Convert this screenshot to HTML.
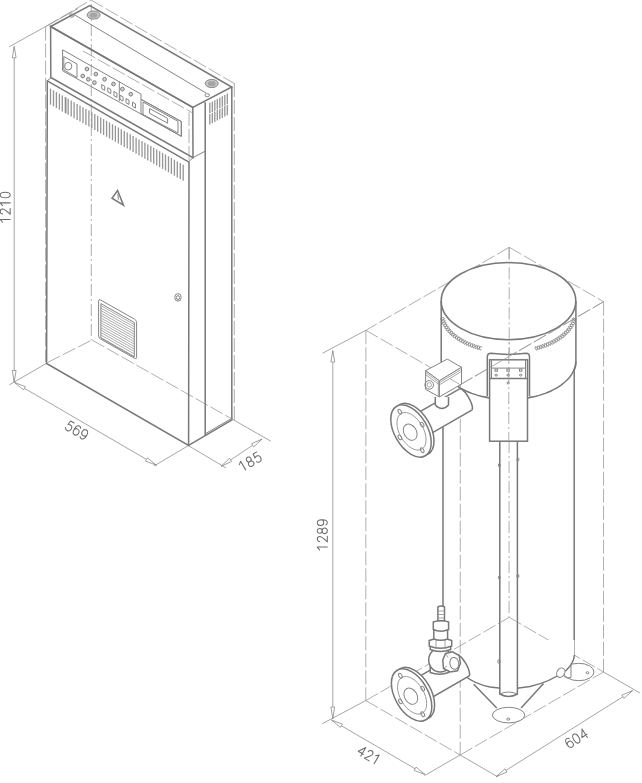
<!DOCTYPE html>
<html><head><meta charset="utf-8"><style>
html,body{margin:0;padding:0;background:#fff;}
svg{display:block;}
.m{fill:none;stroke:#858585;stroke-width:1;}
.M{fill:none;stroke:#787878;stroke-width:1.5;}
.t{fill:none;stroke:#8f8f8f;stroke-width:0.8;}
.d{fill:none;stroke:#9a9a9a;stroke-width:0.8;stroke-dasharray:14 3;}
.W0{fill:#fff;stroke:none;}
.wv{fill:none;stroke:#7c7c7c;stroke-width:1.0;}
.kn{fill:#d2d2d2;stroke:#7a7a7a;stroke-width:1;}
.L{fill:none;stroke:#999;stroke-width:0.8;}
.dd{fill:none;stroke:#9a9a9a;stroke-width:0.8;stroke-dasharray:12 3 2 3;}
.v{fill:none;stroke:#959595;stroke-width:1.3;}
.g{fill:#c6c6c6;stroke:#8a8a8a;stroke-width:1;}
.g2{fill:#a4a4a4;stroke:none;}
.ar{fill:#fff;stroke:#8a8a8a;stroke-width:0.8;}
.f{fill:#fff;stroke:#858585;stroke-width:1;}
.F{fill:#fff;stroke:#787878;stroke-width:1.5;}
.W{fill:#fff;stroke:#787878;stroke-width:1.6;}
.hb{fill:none;stroke:#9a9a9a;stroke-width:4.5;stroke-dasharray:1.6 1.2;}
.tx{fill:none;stroke:#6c6c6c;stroke-width:1.05;stroke-linecap:round;stroke-linejoin:round;}
</style></head><body>
<svg width="642" height="783" viewBox="0 0 642 783">
<line class="d" x1="45.6" y1="26.6" x2="45.6" y2="362.0"/>
<line class="dd" x1="91.3" y1="4.0" x2="91.3" y2="340.0"/>
<line class="d" x1="234.3" y1="83.0" x2="234.3" y2="420.0"/>
<line class="d" x1="45.6" y1="26.6" x2="91.0" y2="0.0"/>
<line class="d" x1="91.0" y1="0.0" x2="234.3" y2="83.5"/>
<line class="t" x1="9.3" y1="46.7" x2="45.6" y2="26.6"/>
<line class="t" x1="45.6" y1="26.6" x2="78.0" y2="8.6"/>
<line class="t" x1="14.2" y1="47.0" x2="14.2" y2="382.0"/>
<polygon class="ar" points="14.2,46.3 16.1,57.8 12.3,57.8"/>
<polygon class="ar" points="14.2,382.0 12.3,370.5 16.1,370.5"/>
<line class="t" x1="46.4" y1="363.4" x2="9.3" y2="384.9"/>
<g class="tx" transform="translate(5.2 207.4) rotate(-90) scale(1.000) translate(-15.45 -5)"><path transform="translate(0.00,0)" d="M0.6,2.3 L3.4,0 L3.4,10"/><path transform="translate(8.30,0)" d="M0.5,2.4 C0.8,0.8 1.8,0 3.1,0 C4.7,0 5.6,1.1 5.6,2.6 C5.6,4.3 4.3,5.6 0.3,10 L5.9,10"/><path transform="translate(16.60,0)" d="M0.6,2.3 L3.4,0 L3.4,10"/><path transform="translate(24.90,0)" d="M3,0 C1.2,0 0.2,2 0.2,5 C0.2,8 1.2,10 3,10 C4.8,10 5.8,8 5.8,5 C5.8,2 4.8,0 3,0 Z"/></g>
<line class="t" x1="14.5" y1="382.5" x2="156.4" y2="465.2"/>
<polygon class="ar" points="14.5,382.5 25.4,386.6 23.5,389.9"/>
<polygon class="ar" points="156.4,465.2 145.5,461.1 147.4,457.8"/>
<line class="t" x1="188.4" y1="445.6" x2="154.0" y2="466.0"/>
<g class="tx" transform="translate(76.8 430.3) rotate(30) scale(1.000) translate(-11.30 -5)"><path transform="translate(0.00,0)" d="M5.4,0 L1.3,0 L0.8,4.4 C1.5,3.8 2.3,3.5 3.2,3.5 C4.9,3.5 5.9,4.9 5.9,6.7 C5.9,8.7 4.6,10 2.9,10 C1.6,10 0.6,9.3 0.2,8.3"/><path transform="translate(8.30,0)" d="M5.3,1.2 C4.8,0.4 4,0 3.1,0 C1.2,0 0.2,2.2 0.2,5.3 C0.2,8.5 1.3,10 3.1,10 C4.8,10 6,8.7 6,6.7 C6,4.7 4.8,3.5 3.2,3.5 C1.7,3.5 0.6,4.5 0.3,5.6"/><path transform="translate(16.60,0)" d="M0.7,8.8 C1.2,9.6 2,10 2.9,10 C4.8,10 5.8,7.8 5.8,4.7 C5.8,1.5 4.7,0 2.9,0 C1.2,0 0,1.3 0,3.3 C0,5.3 1.2,6.5 2.8,6.5 C4.3,6.5 5.4,5.5 5.7,4.4"/></g>
<line class="t" x1="188.4" y1="445.6" x2="226.0" y2="468.0"/>
<line class="t" x1="232.7" y1="419.4" x2="270.8" y2="441.2"/>
<line class="t" x1="221.0" y1="466.3" x2="262.1" y2="439.0"/>
<polygon class="ar" points="221.0,466.3 229.5,458.4 231.6,461.5"/>
<polygon class="ar" points="262.1,439.0 253.6,446.9 251.5,443.8"/>
<g class="tx" transform="translate(250 461.6) rotate(-30) scale(1.000) translate(-11.30 -5)"><path transform="translate(0.00,0)" d="M0.6,2.3 L3.4,0 L3.4,10"/><path transform="translate(8.30,0)" d="M3,0 C1.6,0 0.6,1 0.6,2.5 C0.6,4 1.6,4.9 3,4.9 C4.4,4.9 5.4,4 5.4,2.5 C5.4,1 4.4,0 3,0 Z M3,4.9 C1.3,4.9 0.2,6 0.2,7.5 C0.2,9 1.3,10 3,10 C4.7,10 5.8,9 5.8,7.5 C5.8,6 4.7,4.9 3,4.9 Z"/><path transform="translate(16.60,0)" d="M5.4,0 L1.3,0 L0.8,4.4 C1.5,3.8 2.3,3.5 3.2,3.5 C4.9,3.5 5.9,4.9 5.9,6.7 C5.9,8.7 4.6,10 2.9,10 C1.6,10 0.6,9.3 0.2,8.3"/></g>
<line class="d" x1="47.7" y1="362.4" x2="92.0" y2="340.0"/>
<line class="d" x1="92.0" y1="340.0" x2="232.7" y2="419.4"/>
<polygon class="M" points="47.3,80.8 189.0,162.2 188.6,445.4 46.6,363.5"/>
<line class="m" x1="189.0" y1="161.5" x2="193.0" y2="157.6"/>
<line class="M" x1="231.8" y1="87.0" x2="231.8" y2="419.6"/>
<line class="M" x1="188.6" y1="445.4" x2="232.4" y2="419.6"/>
<line class="M" x1="205.2" y1="152.0" x2="205.2" y2="435.8"/>
<line class="m" x1="205.2" y1="433.8" x2="232.4" y2="418.0"/>
<polygon class="M" points="50.6,26.5 89.8,5.5 231.8,87.0 192.8,107.4"/>
<polygon class="M" points="50.6,26.5 192.8,107.4 193.0,157.6 50.8,77.5"/>
<line class="m" x1="193.0" y1="157.6" x2="205.0" y2="151.3"/>
<line class="M" x1="205.2" y1="102.3" x2="205.2" y2="152.0"/>
<line class="m" x1="74.0" y1="14.5" x2="206.0" y2="93.0"/>
<ellipse class="m" cx="71.7" cy="15.6" rx="2.2" ry="1.6"/>
<ellipse class="m" cx="207.2" cy="95.2" rx="2.2" ry="1.6"/>
<ellipse class="g" cx="93.6" cy="15.0" rx="6.5" ry="4.1"/>
<ellipse class="g2" cx="93.6" cy="15.2" rx="3.8" ry="2.4"/>
<ellipse class="g" cx="211.7" cy="83.5" rx="6.5" ry="4.1"/>
<ellipse class="g2" cx="211.7" cy="83.7" rx="3.8" ry="2.4"/>
<polygon class="m" points="62.6,49.8 141.0,94.1 141.0,99.3 181.3,121.5 181.3,136.3 62.6,70.8"/>
<polygon class="m" points="63.8,56.5 77.0,64.0 77.0,77.5 63.8,70.0"/>
<ellipse class="m" cx="68.2" cy="66.2" rx="3.6" ry="3.8"/>
<ellipse class="kn" cx="86.9" cy="69.0" rx="1.8" ry="1.9"/>
<ellipse class="kn" cx="95.8" cy="74.1" rx="1.8" ry="1.9"/>
<ellipse class="kn" cx="82.7" cy="76.0" rx="1.8" ry="1.9"/>
<ellipse class="kn" cx="88.3" cy="79.3" rx="1.8" ry="1.9"/>
<ellipse class="kn" cx="94.4" cy="82.6" rx="1.8" ry="1.9"/>
<ellipse class="kn" cx="104.6" cy="79.3" rx="1.8" ry="1.9"/>
<ellipse class="kn" cx="113.5" cy="84.0" rx="1.8" ry="1.9"/>
<ellipse class="kn" cx="122.4" cy="89.1" rx="1.8" ry="1.9"/>
<ellipse class="kn" cx="130.8" cy="94.2" rx="1.8" ry="1.9"/>
<polygon class="m" points="101.7,84.5 104.7,86.2 104.7,90.4 101.7,88.7"/>
<polygon class="m" points="107.8,87.7 110.8,89.4 110.8,93.6 107.8,91.9"/>
<polygon class="m" points="113.9,91.5 116.9,93.2 116.9,97.4 113.9,95.7"/>
<polygon class="m" points="120.0,95.2 123.0,96.9 123.0,101.1 120.0,99.4"/>
<polygon class="m" points="126.0,98.5 129.0,100.2 129.0,104.4 126.0,102.7"/>
<polygon class="m" points="132.5,102.2 135.5,103.9 135.5,108.1 132.5,106.4"/>
<line class="m" x1="119.3" y1="81.4" x2="119.3" y2="101.0"/>
<polygon class="m" points="141.0,99.3 181.3,121.5 181.3,136.3 141.0,113.5"/>
<polygon class="m" points="143.0,102.0 178.0,121.3 178.0,133.0 143.0,114.6"/>
<polygon class="m" points="149.6,108.5 167.6,118.4 167.6,123.2 149.6,113.3"/>
<line class="d" x1="189.0" y1="112.0" x2="189.0" y2="160.0"/>
<line class="d" x1="83.0" y1="51.0" x2="192.0" y2="112.6"/>
<line class="v" x1="50.5" y1="88.6" x2="50.5" y2="104.6"/>
<line class="v" x1="53.5" y1="90.3" x2="53.5" y2="106.3"/>
<line class="v" x1="56.4" y1="92.0" x2="56.4" y2="108.0"/>
<line class="v" x1="59.4" y1="93.7" x2="59.4" y2="109.7"/>
<line class="v" x1="62.3" y1="95.4" x2="62.3" y2="111.4"/>
<line class="v" x1="65.3" y1="97.1" x2="65.3" y2="113.1"/>
<line class="v" x1="68.2" y1="98.8" x2="68.2" y2="114.8"/>
<line class="v" x1="71.2" y1="100.5" x2="71.2" y2="116.5"/>
<line class="v" x1="74.1" y1="102.2" x2="74.1" y2="118.2"/>
<line class="v" x1="77.1" y1="103.9" x2="77.1" y2="119.9"/>
<line class="v" x1="80.0" y1="105.6" x2="80.0" y2="121.6"/>
<line class="v" x1="83.0" y1="107.2" x2="83.0" y2="123.2"/>
<line class="v" x1="85.9" y1="108.9" x2="85.9" y2="124.9"/>
<line class="v" x1="88.9" y1="110.6" x2="88.9" y2="126.6"/>
<line class="v" x1="91.8" y1="112.3" x2="91.8" y2="128.3"/>
<line class="v" x1="94.8" y1="114.0" x2="94.8" y2="130.0"/>
<line class="v" x1="97.7" y1="115.7" x2="97.7" y2="131.7"/>
<line class="v" x1="100.7" y1="117.4" x2="100.7" y2="133.4"/>
<line class="v" x1="103.6" y1="119.1" x2="103.6" y2="135.1"/>
<line class="v" x1="106.6" y1="120.8" x2="106.6" y2="136.8"/>
<line class="v" x1="109.5" y1="122.5" x2="109.5" y2="138.5"/>
<line class="v" x1="112.5" y1="124.2" x2="112.5" y2="140.2"/>
<line class="v" x1="115.4" y1="125.8" x2="115.4" y2="141.8"/>
<line class="v" x1="118.4" y1="127.5" x2="118.4" y2="143.5"/>
<line class="v" x1="121.3" y1="129.2" x2="121.3" y2="145.2"/>
<line class="v" x1="124.3" y1="130.9" x2="124.3" y2="146.9"/>
<line class="v" x1="127.2" y1="132.6" x2="127.2" y2="148.6"/>
<line class="v" x1="130.2" y1="134.3" x2="130.2" y2="150.3"/>
<line class="v" x1="133.1" y1="136.0" x2="133.1" y2="152.0"/>
<line class="v" x1="136.1" y1="137.7" x2="136.1" y2="153.7"/>
<line class="v" x1="139.0" y1="139.4" x2="139.0" y2="155.4"/>
<line class="v" x1="142.0" y1="141.1" x2="142.0" y2="157.1"/>
<line class="v" x1="144.9" y1="142.8" x2="144.9" y2="158.8"/>
<line class="v" x1="147.8" y1="144.5" x2="147.8" y2="160.5"/>
<line class="v" x1="150.8" y1="146.1" x2="150.8" y2="162.1"/>
<line class="v" x1="153.7" y1="147.8" x2="153.7" y2="163.8"/>
<line class="v" x1="156.7" y1="149.5" x2="156.7" y2="165.5"/>
<line class="v" x1="159.6" y1="151.2" x2="159.6" y2="167.2"/>
<line class="v" x1="162.6" y1="152.9" x2="162.6" y2="168.9"/>
<line class="v" x1="165.5" y1="154.6" x2="165.5" y2="170.6"/>
<line class="v" x1="168.5" y1="156.3" x2="168.5" y2="172.3"/>
<line class="v" x1="171.4" y1="158.0" x2="171.4" y2="174.0"/>
<line class="v" x1="174.4" y1="159.7" x2="174.4" y2="175.7"/>
<line class="v" x1="177.3" y1="161.4" x2="177.3" y2="177.4"/>
<line class="v" x1="180.3" y1="163.1" x2="180.3" y2="179.1"/>
<line class="v" x1="183.2" y1="164.8" x2="183.2" y2="180.8"/>
<line class="m" x1="66.0" y1="97.5" x2="66.0" y2="113.5"/>
<line class="m" x1="47.3" y1="80.8" x2="50.8" y2="77.8"/>
<polygon class="M" points="117.6,190.5 112.0,198.2 123.5,205.2"/>
<line class="m" x1="117.8" y1="193.8" x2="118.4" y2="199.8"/>
<ellipse class="m" cx="178.0" cy="297.4" rx="3.2" ry="3.8"/>
<ellipse class="m" cx="178.0" cy="297.6" rx="1.6" ry="2.0"/>
<path class="m" d="M98.6,301 Q98.6,299 100.6,300 L134.6,319.2 Q136.6,320.5 136.6,322.5 L136.6,357.5 Q136.6,359.5 134.6,358.3 L100.6,339 Q98.6,338 98.6,336 Z"/>
<polygon class="m" points="100.9,303.6 134.3,322.5 134.3,357.0 100.9,338.0"/>
<line class="L" x1="100.9" y1="305.6" x2="134.3" y2="324.5"/>
<line class="L" x1="100.9" y1="308.1" x2="134.3" y2="326.9"/>
<line class="L" x1="100.9" y1="310.5" x2="134.3" y2="329.4"/>
<line class="L" x1="100.9" y1="313.0" x2="134.3" y2="331.9"/>
<line class="L" x1="100.9" y1="315.4" x2="134.3" y2="334.3"/>
<line class="L" x1="100.9" y1="317.9" x2="134.3" y2="336.8"/>
<line class="L" x1="100.9" y1="320.3" x2="134.3" y2="339.2"/>
<line class="L" x1="100.9" y1="322.8" x2="134.3" y2="341.6"/>
<line class="L" x1="100.9" y1="325.2" x2="134.3" y2="344.1"/>
<line class="L" x1="100.9" y1="327.7" x2="134.3" y2="346.6"/>
<line class="L" x1="100.9" y1="330.1" x2="134.3" y2="349.0"/>
<line class="L" x1="100.9" y1="332.6" x2="134.3" y2="351.4"/>
<line class="L" x1="100.9" y1="335.0" x2="134.3" y2="353.9"/>
<line class="L" x1="100.9" y1="337.5" x2="134.3" y2="356.4"/>
<line class="v" x1="209.8" y1="102.8" x2="209.8" y2="113.3"/>
<line class="v" x1="209.8" y1="114.0" x2="209.8" y2="124.5"/>
<line class="v" x1="212.3" y1="101.5" x2="212.3" y2="112.0"/>
<line class="v" x1="212.3" y1="112.7" x2="212.3" y2="123.2"/>
<line class="v" x1="214.8" y1="100.2" x2="214.8" y2="110.7"/>
<line class="v" x1="214.8" y1="111.4" x2="214.8" y2="121.9"/>
<line class="v" x1="217.3" y1="98.9" x2="217.3" y2="109.4"/>
<line class="v" x1="217.3" y1="110.1" x2="217.3" y2="120.6"/>
<line class="v" x1="219.8" y1="97.5" x2="219.8" y2="108.0"/>
<line class="v" x1="219.8" y1="108.7" x2="219.8" y2="119.2"/>
<line class="v" x1="222.3" y1="96.2" x2="222.3" y2="106.7"/>
<line class="v" x1="222.3" y1="107.4" x2="222.3" y2="117.9"/>
<line class="v" x1="224.8" y1="94.9" x2="224.8" y2="105.4"/>
<line class="v" x1="224.8" y1="106.1" x2="224.8" y2="116.6"/>
<line class="v" x1="227.3" y1="93.6" x2="227.3" y2="104.1"/>
<line class="v" x1="227.3" y1="104.8" x2="227.3" y2="115.3"/>
<line class="d" x1="509.2" y1="247.3" x2="603.6" y2="301.7"/>
<line class="d" x1="509.2" y1="247.3" x2="365.9" y2="330.3"/>
<line class="d" x1="365.9" y1="330.3" x2="460.3" y2="384.7"/>
<line class="d" x1="460.3" y1="384.7" x2="603.6" y2="301.7"/>
<line class="d" x1="365.9" y1="330.3" x2="365.8" y2="700.6"/>
<line class="d" x1="460.3" y1="384.7" x2="460.2" y2="755.0"/>
<line class="d" x1="603.6" y1="301.7" x2="603.5" y2="672.0"/>
<line class="d" x1="365.8" y1="700.6" x2="460.2" y2="755.0"/>
<line class="d" x1="460.2" y1="755.0" x2="603.5" y2="672.0"/>
<line class="d" x1="365.8" y1="700.6" x2="509.2" y2="617.3"/>
<line class="d" x1="509.2" y1="617.3" x2="603.5" y2="672.0"/>
<line class="dd" x1="509.1" y1="247.3" x2="509.1" y2="617.3"/>
<line class="t" x1="365.9" y1="330.3" x2="322.4" y2="353.3"/>
<line class="t" x1="365.8" y1="700.6" x2="322.4" y2="723.6"/>
<line class="t" x1="332.8" y1="351.0" x2="332.8" y2="718.5"/>
<polygon class="ar" points="332.8,350.5 334.7,362.0 330.9,362.0"/>
<polygon class="ar" points="332.8,718.5 330.9,707.0 334.7,707.0"/>
<g class="tx" transform="translate(322.3 535) rotate(-90) scale(1.000) translate(-15.45 -5)"><path transform="translate(0.00,0)" d="M0.6,2.3 L3.4,0 L3.4,10"/><path transform="translate(8.30,0)" d="M0.5,2.4 C0.8,0.8 1.8,0 3.1,0 C4.7,0 5.6,1.1 5.6,2.6 C5.6,4.3 4.3,5.6 0.3,10 L5.9,10"/><path transform="translate(16.60,0)" d="M3,0 C1.6,0 0.6,1 0.6,2.5 C0.6,4 1.6,4.9 3,4.9 C4.4,4.9 5.4,4 5.4,2.5 C5.4,1 4.4,0 3,0 Z M3,4.9 C1.3,4.9 0.2,6 0.2,7.5 C0.2,9 1.3,10 3,10 C4.7,10 5.8,9 5.8,7.5 C5.8,6 4.7,4.9 3,4.9 Z"/><path transform="translate(24.90,0)" d="M0.7,8.8 C1.2,9.6 2,10 2.9,10 C4.8,10 5.8,7.8 5.8,4.7 C5.8,1.5 4.7,0 2.9,0 C1.2,0 0,1.3 0,3.3 C0,5.3 1.2,6.5 2.8,6.5 C4.3,6.5 5.4,5.5 5.7,4.4"/></g>
<line class="t" x1="460.2" y1="755.0" x2="424.5" y2="775.6"/>
<line class="t" x1="331.5" y1="720.0" x2="425.0" y2="774.5"/>
<polygon class="ar" points="331.5,720.0 342.4,724.1 340.5,727.4"/>
<polygon class="ar" points="425.0,774.5 414.1,770.4 416.0,767.1"/>
<g class="tx" transform="translate(369.1 755.1) rotate(30) scale(1.000) translate(-11.30 -5)"><path transform="translate(0.00,0)" d="M4.6,10 L4.6,0 L0,7.1 L6.1,7.1"/><path transform="translate(8.30,0)" d="M0.5,2.4 C0.8,0.8 1.8,0 3.1,0 C4.7,0 5.6,1.1 5.6,2.6 C5.6,4.3 4.3,5.6 0.3,10 L5.9,10"/><path transform="translate(16.60,0)" d="M0.6,2.3 L3.4,0 L3.4,10"/></g>
<line class="t" x1="460.2" y1="755.0" x2="498.0" y2="777.0"/>
<line class="t" x1="603.5" y1="672.0" x2="640.0" y2="693.0"/>
<line class="t" x1="496.3" y1="776.5" x2="632.6" y2="690.6"/>
<polygon class="ar" points="496.3,776.5 505.0,768.8 507.0,772.0"/>
<polygon class="ar" points="632.6,690.6 623.9,698.3 621.9,695.1"/>
<g class="tx" transform="translate(576.3 738.5) rotate(-32) scale(1.000) translate(-11.30 -5)"><path transform="translate(0.00,0)" d="M5.3,1.2 C4.8,0.4 4,0 3.1,0 C1.2,0 0.2,2.2 0.2,5.3 C0.2,8.5 1.3,10 3.1,10 C4.8,10 6,8.7 6,6.7 C6,4.7 4.8,3.5 3.2,3.5 C1.7,3.5 0.6,4.5 0.3,5.6"/><path transform="translate(8.30,0)" d="M3,0 C1.2,0 0.2,2 0.2,5 C0.2,8 1.2,10 3,10 C4.8,10 5.8,8 5.8,5 C5.8,2 4.8,0 3,0 Z"/><path transform="translate(16.60,0)" d="M4.6,10 L4.6,0 L0,7.1 L6.1,7.1"/></g>
<line class="M" x1="443.0" y1="424.0" x2="443.0" y2="606.0"/>
<line class="M" x1="574.2" y1="369.7" x2="574.2" y2="656.0"/>
<ellipse class="f" cx="578.7" cy="672.0" rx="15.3" ry="8.7"/>
<ellipse class="m" cx="587.5" cy="672.8" rx="1.4" ry="1.1"/>
<path class="W0" d="M574.4,640 L574.4,656 Q573.5,664 566,671 Q556,679 545,682 L545,640 Z"/>
<path class="M" d="M574.4,655 Q574,663 566,670.5 Q550,682 530,686.5 Q509,690 490,687 Q475,684 465,676"/>
<ellipse class="f" cx="560.8" cy="672.7" rx="3.8" ry="5.0" transform="rotate(30 560.8 672.7)"/>
<line class="m" x1="571.0" y1="663.4" x2="571.0" y2="677.4"/>
<path class="m" d="M564,676.5 Q567,679 571,677.4"/>
<ellipse class="f" cx="508.6" cy="715.1" rx="16.2" ry="7.8"/>
<ellipse class="m" cx="508.3" cy="719.1" rx="1.5" ry="1.1"/>
<path class="M" d="M473.7,684.2 L496.8,707.9"/>
<path class="M" d="M543.5,683.6 L521.1,707.9"/>
<path class="F" d="M499.8,441 L499.8,694 Q508.6,699 517.4,694 L517.4,441"/>
<line class="dd" x1="509.1" y1="441.0" x2="509.1" y2="617.3"/>
<line class="d" x1="500.5" y1="622.4" x2="509.2" y2="617.3"/>
<line class="d" x1="509.2" y1="617.3" x2="516.8" y2="621.7"/>
<path class="m" d="M499.8,694 Q508.6,690 517.4,694"/>
<ellipse class="m" cx="499.3" cy="465.1" rx="1.0" ry="1.6"/>
<ellipse class="m" cx="517.9" cy="459.5" rx="1.0" ry="1.6"/>
<ellipse class="m" cx="499.3" cy="577.5" rx="1.0" ry="1.6"/>
<ellipse class="m" cx="517.9" cy="576.0" rx="1.0" ry="1.6"/>
<ellipse class="m" cx="499.0" cy="661.5" rx="1.2" ry="1.8"/>
<path class="M" d="M441.2,301 L441.2,361 M575.9,301 L575.9,362 Q575.9,368 573.9,370"/>
<polyline class="M" points="575.8,361.0 575.7,363.0 575.4,365.0 575.0,367.0 574.3,369.0 573.5,371.0 572.5,372.9 571.3,374.8 570.0,376.7 568.5,378.5 566.8,380.3 564.9,382.0 562.9,383.7 560.8,385.3 558.5,386.8 556.1,388.3 553.5,389.7 550.9,391.0 548.1,392.2 545.2,393.4 542.1,394.4 539.1,395.4 535.9,396.3 532.6,397.0 529.3,397.7 525.9,398.3 522.5,398.8 519.0,399.1 515.5,399.4 512.0,399.5 508.5,399.6 505.0,399.5 501.5,399.4 498.0,399.1 494.5,398.8 491.1,398.3 487.7,397.7 484.4,397.0 481.1,396.3 477.9,395.4 474.9,394.4 471.8,393.4 468.9,392.2 466.1,391.0 463.5,389.7 460.9,388.3 458.5,386.8 456.2,385.3 454.1,383.7 452.1,382.0 450.2,380.3 448.5,378.5 447.0,376.7 445.7,374.8 444.5,372.9 443.5,371.0 442.7,369.0 442.0,367.0 441.6,365.0 441.3,363.0 441.2,361.0"/>
<ellipse class="W" cx="508.5" cy="301.1" rx="67.3" ry="38.6"/>
<polyline class="wv" points="442.3,317.6 442.1,317.7 441.9,317.9 441.7,318.0 441.5,318.2 441.3,318.3 441.1,318.5 441.0,318.6 440.9,318.7 440.8,318.9 440.8,319.0 440.7,319.1 440.8,319.2 440.8,319.3 440.9,319.4 441.0,319.5 441.1,319.6 441.3,319.6 441.5,319.7 441.7,319.7 442.0,319.8 442.2,319.8 442.5,319.9 442.8,319.9 443.1,319.9 443.3,319.9 443.6,320.0 443.8,320.0 444.1,320.0 444.3,320.0 444.5,320.1 444.7,320.1 444.8,320.2 444.9,320.2 445.0,320.3 445.1,320.4 445.1,320.5 445.1,320.6 445.0,320.7 445.0,320.9 444.8,321.0 444.7,321.2 444.6,321.3 444.4,321.5 444.2,321.7 444.0,321.9 443.8,322.1 443.6,322.3 443.4,322.5 443.2,322.7 443.0,322.8 442.9,323.0 442.7,323.2 442.6,323.4 442.5,323.6 442.5,323.7 442.4,323.8 442.4,324.0 442.5,324.1 442.6,324.2 442.7,324.2 442.8,324.3 443.0,324.4 443.2,324.4 443.4,324.4 443.6,324.4 443.9,324.4 444.2,324.4 444.4,324.4 444.7,324.3 445.0,324.3 445.3,324.3 445.6,324.2 445.8,324.2 446.1,324.2 446.3,324.2 446.5,324.2 446.7,324.3 446.8,324.3 446.9,324.4 447.0,324.4 447.0,324.5 447.0,324.7 447.0,324.8 446.9,324.9 446.8,325.1 446.7,325.3 446.6,325.5 446.4,325.7 446.2,326.0 446.1,326.2 445.9,326.4 445.7,326.7 445.6,326.9 445.4,327.2 445.3,327.4 445.1,327.6 445.1,327.8 445.0,328.0 445.0,328.2 444.9,328.3 445.0,328.4 445.0,328.5 445.1,328.6 445.3,328.7 445.4,328.7 445.6,328.7 445.9,328.7 446.1,328.7 446.4,328.6 446.6,328.5 446.9,328.5 447.2,328.4 447.5,328.3 447.8,328.3 448.1,328.2 448.4,328.1 448.6,328.1 448.8,328.0 449.0,328.0 449.2,328.0 449.3,328.1 449.5,328.1 449.5,328.2 449.6,328.3 449.6,328.5 449.5,328.6 449.5,328.8 449.4,329.0 449.3,329.3 449.2,329.5 449.0,329.8 448.9,330.1 448.7,330.3 448.6,330.6 448.5,330.9 448.3,331.2 448.2,331.4 448.1,331.6 448.1,331.9 448.1,332.1 448.1,332.2 448.1,332.4 448.2,332.5 448.3,332.5 448.4,332.6 448.6,332.6 448.8,332.6 449.0,332.5 449.3,332.5 449.5,332.4 449.8,332.3 450.1,332.1 450.4,332.0 450.7,331.9 451.0,331.8 451.3,331.7 451.6,331.6 451.8,331.5 452.0,331.5 452.2,331.4 452.4,331.5 452.5,331.5 452.6,331.6 452.6,331.7 452.7,331.8 452.7,332.0 452.6,332.2 452.5,332.5 452.5,332.7 452.4,333.0 452.2,333.3 452.1,333.6 452.0,334.0 451.9,334.3 451.8,334.6 451.7,334.9 451.6,335.1 451.6,335.4 451.6,335.6 451.6,335.7 451.7,335.9 451.8,336.0 451.9,336.0 452.0,336.1 452.2,336.0 452.5,336.0 452.7,335.9 453.0,335.8 453.2,335.7 453.5,335.5 453.8,335.3 454.1,335.2 454.4,335.0 454.7,334.9 455.0,334.7 455.3,334.6 455.5,334.5 455.7,334.5 455.8,334.5 456.0,334.5 456.1,334.6 456.1,334.7 456.2,334.9 456.2,335.1 456.1,335.4 456.1,335.6 456.0,335.9 455.9,336.3 455.8,336.6 455.8,336.9 455.7,337.3 455.6,337.6 455.5,337.9 455.5,338.2 455.5,338.5 455.5,338.7 455.5,338.9 455.6,339.0 455.7,339.1 455.8,339.1 456.0,339.1 456.2,339.1 456.5,339.0 456.7,338.8 457.0,338.7 457.3,338.5 457.6,338.3 457.9,338.1 458.2,337.9 458.5,337.7 458.7,337.5 459.0,337.4 459.2,337.3 459.4,337.2 459.6,337.2 459.7,337.2 459.8,337.3 459.9,337.5 460.0,337.6 460.0,337.9 460.0,338.1 459.9,338.4 459.9,338.8 459.8,339.1 459.8,339.5 459.7,339.9 459.6,340.2 459.6,340.6 459.6,340.9 459.6,341.1 459.6,341.4 459.6,341.6 459.7,341.7 459.9,341.8 460.0,341.8 460.2,341.8 460.4,341.7 460.6,341.6 460.9,341.4 461.2,341.2 461.5,341.0 461.8,340.8 462.1,340.5 462.4,340.3 462.6,340.1 462.9,339.9 463.1,339.8 463.4,339.7 463.5,339.6 463.7,339.6 463.8,339.7 463.9,339.8 464.0,340.0 464.0,340.2 464.0,340.5 464.0,340.8 464.0,341.2 464.0,341.5 463.9,341.9 463.9,342.3 463.9,342.7 463.8,343.0 463.8,343.4 463.9,343.6 463.9,343.8 464.0,344.0 464.1,344.1 464.3,344.2 464.4,344.1 464.7,344.1 464.9,343.9 465.1,343.7 465.4,343.5 465.7,343.3 466.0,343.0 466.3,342.8 466.6,342.5 466.8,342.3 467.1,342.0 467.3,341.9 467.6,341.8 467.7,341.7 467.9,341.7 468.0,341.8 468.1,341.9 468.2,342.1 468.2,342.4 468.3,342.7 468.3,343.0 468.3,343.4 468.3,343.8 468.2,344.2 468.2,344.6 468.2,345.0 468.3,345.3 468.3,345.6 468.4,345.9 468.5,346.0 468.6,346.2 468.7,346.2 468.9,346.2 469.1,346.1 469.3,345.9 469.6,345.7 469.8,345.5 470.1,345.2 470.4,344.9 470.7,344.6 471.0,344.4 471.2,344.1 471.5,343.9 471.7,343.7 471.9,343.6 472.1,343.5 472.3,343.6 472.4,343.6 472.5,343.8 472.6,344.0 472.6,344.3 472.7,344.7 472.7,345.0 472.7,345.4 472.7,345.9 472.7,346.3 472.7,346.7 472.8,347.0 472.8,347.3 472.9,347.6 473.0,347.8 473.1,347.9 473.3,348.0 473.5,347.9 473.7,347.8 473.9,347.7 474.1,347.5 474.4,347.2 474.7,346.9 474.9,346.6 475.2,346.2 475.5,345.9 475.7,345.7 476.0,345.4 476.2,345.3 476.4,345.1 476.6,345.1 476.7,345.1 476.9,345.3 477.0,345.4 477.0,345.7 477.1,346.0 477.2,346.4 477.2,346.8 477.2,347.2 477.3,347.6 477.3,348.0 477.4,348.4 477.4,348.8 477.5,349.1 477.6,349.3 477.8,349.4 477.9,349.5 478.1,349.4 478.3,349.3 478.5,349.2 478.7,348.9 479.0,348.7 479.3,348.3 479.5,348.0 479.8,347.7 480.0,347.3 480.3,347.0 480.5,346.8 480.7,346.6 480.9,346.5 481.1,346.4 481.3,346.5 481.4,346.6 481.5,346.8 481.6,347.1 481.7,347.4"/>
<polyline class="wv" points="442.3,317.6 442.6,317.6 442.9,317.7 443.1,317.7 443.4,317.8 443.6,317.8 443.8,317.9 444.0,317.9 444.1,318.0 444.2,318.1 444.3,318.1 444.4,318.2 444.4,318.3 444.4,318.4 444.4,318.5 444.3,318.6 444.2,318.7 444.1,318.9 444.0,319.0 443.8,319.2 443.6,319.3 443.4,319.5 443.2,319.6 443.0,319.8 442.8,320.0 442.6,320.2 442.4,320.3 442.2,320.5 442.0,320.7 441.9,320.8 441.7,321.0 441.6,321.2 441.5,321.3 441.5,321.4 441.5,321.6 441.5,321.7 441.5,321.8 441.6,321.9 441.8,321.9 441.9,322.0 442.1,322.0 442.3,322.1 442.5,322.1 442.8,322.1 443.0,322.2 443.3,322.2 443.6,322.2 443.9,322.2 444.1,322.2 444.4,322.1 444.7,322.1 444.9,322.2 445.1,322.2 445.3,322.2 445.5,322.2 445.7,322.3 445.8,322.3 445.9,322.4 445.9,322.5 445.9,322.6 445.9,322.7 445.9,322.8 445.8,323.0 445.7,323.1 445.6,323.3 445.4,323.5 445.3,323.7 445.1,323.9 444.9,324.1 444.7,324.3 444.5,324.6 444.4,324.8 444.2,325.0 444.0,325.2 443.9,325.4 443.8,325.6 443.7,325.8 443.6,325.9 443.6,326.1 443.6,326.2 443.7,326.3 443.7,326.4 443.8,326.5 444.0,326.5 444.2,326.6 444.4,326.6 444.6,326.6 444.8,326.6 445.1,326.5 445.4,326.5 445.7,326.5 446.0,326.4 446.3,326.4 446.5,326.3 446.8,326.3 447.1,326.2 447.3,326.2 447.5,326.2 447.7,326.2 447.9,326.2 448.0,326.2 448.1,326.3 448.2,326.4 448.2,326.5 448.2,326.6 448.2,326.8 448.1,327.0 448.0,327.2 447.9,327.4 447.8,327.6 447.6,327.8 447.5,328.1 447.3,328.4 447.1,328.6 447.0,328.9 446.8,329.1 446.7,329.4 446.6,329.6 446.5,329.8 446.5,330.0 446.4,330.2 446.4,330.3 446.5,330.5 446.6,330.6 446.7,330.6 446.8,330.7 447.0,330.7 447.2,330.7 447.4,330.7 447.7,330.6 448.0,330.5 448.2,330.4 448.5,330.4 448.8,330.3 449.1,330.2 449.4,330.1 449.7,330.0 450.0,329.9 450.2,329.8 450.4,329.8 450.6,329.8 450.8,329.8 450.9,329.8 451.0,329.9 451.0,330.0 451.1,330.1 451.0,330.3 451.0,330.5 450.9,330.7 450.8,331.0 450.7,331.2 450.6,331.5 450.5,331.8 450.4,332.1 450.2,332.4 450.1,332.7 450.0,333.0 449.9,333.2 449.8,333.5 449.8,333.7 449.8,333.9 449.8,334.1 449.8,334.2 449.9,334.3 450.1,334.4 450.2,334.4 450.4,334.4 450.6,334.3 450.9,334.3 451.1,334.2 451.4,334.0 451.7,333.9 452.0,333.8 452.3,333.6 452.6,333.5 452.9,333.3 453.2,333.2 453.4,333.1 453.7,333.1 453.9,333.0 454.0,333.0 454.2,333.0 454.3,333.1 454.3,333.2 454.4,333.4 454.4,333.6 454.3,333.8 454.3,334.0 454.2,334.3 454.1,334.6 454.0,334.9 453.9,335.2 453.8,335.6 453.7,335.9 453.6,336.2 453.6,336.5 453.5,336.8 453.5,337.0 453.5,337.2 453.5,337.4 453.6,337.5 453.7,337.6 453.9,337.6 454.0,337.6 454.2,337.6 454.5,337.5 454.7,337.4 455.0,337.2 455.3,337.1 455.6,336.9 455.9,336.7 456.2,336.5 456.5,336.4 456.8,336.2 457.0,336.1 457.3,336.0 457.5,335.9 457.6,335.9 457.8,335.9 457.9,336.0 458.0,336.1 458.0,336.3 458.0,336.5 458.0,336.7 458.0,337.0 457.9,337.3 457.9,337.7 457.8,338.0 457.7,338.4 457.6,338.7 457.6,339.0 457.5,339.4 457.5,339.7 457.5,339.9 457.5,340.1 457.6,340.3 457.7,340.4 457.8,340.5 457.9,340.5 458.1,340.5 458.4,340.4 458.6,340.3 458.9,340.1 459.1,339.9 459.4,339.7 459.7,339.5 460.0,339.3 460.3,339.1 460.6,338.9 460.9,338.7 461.1,338.6 461.3,338.5 461.5,338.4 461.7,338.5 461.8,338.5 461.9,338.6 461.9,338.8 462.0,339.0 462.0,339.3 462.0,339.6 461.9,339.9 461.9,340.3 461.8,340.7 461.8,341.1 461.7,341.4 461.7,341.8 461.7,342.1 461.7,342.4 461.7,342.6 461.8,342.8 461.9,342.9 462.0,343.0 462.2,343.0 462.4,343.0 462.6,342.9 462.8,342.7 463.1,342.6 463.4,342.3 463.7,342.1 464.0,341.8 464.3,341.6 464.5,341.4 464.8,341.1 465.1,341.0 465.3,340.8 465.5,340.7 465.7,340.7 465.8,340.7 465.9,340.8 466.0,341.0 466.1,341.2 466.1,341.4 466.1,341.7 466.1,342.1 466.1,342.5 466.1,342.8 466.0,343.2 466.0,343.6 466.0,344.0 466.0,344.3 466.1,344.6 466.1,344.9 466.2,345.0 466.3,345.2 466.5,345.2 466.6,345.2 466.8,345.1 467.1,345.0 467.3,344.8 467.6,344.6 467.9,344.3 468.1,344.1 468.4,343.8 468.7,343.5 469.0,343.2 469.2,343.0 469.5,342.8 469.7,342.7 469.9,342.7 470.0,342.7 470.2,342.7 470.3,342.9 470.4,343.1 470.4,343.3 470.4,343.7 470.5,344.0 470.5,344.4 470.5,344.8 470.5,345.2 470.5,345.6 470.5,346.0 470.5,346.3 470.6,346.6 470.7,346.8 470.8,347.0 470.9,347.1 471.1,347.1 471.2,347.1 471.5,346.9 471.7,346.8 471.9,346.5 472.2,346.3 472.5,346.0 472.8,345.7 473.0,345.4 473.3,345.1 473.6,344.8 473.8,344.6 474.0,344.5 474.2,344.4 474.4,344.3 474.5,344.4 474.7,344.5 474.7,344.7 474.8,345.0 474.9,345.3 474.9,345.7 474.9,346.1 475.0,346.5 475.0,346.9 475.0,347.3 475.1,347.7 475.1,348.1 475.2,348.3 475.3,348.5 475.4,348.7 475.6,348.7 475.7,348.7 475.9,348.6 476.2,348.5 476.4,348.3 476.7,348.0 476.9,347.7 477.2,347.3 477.5,347.0 477.7,346.7 478.0,346.4 478.2,346.2 478.4,346.0 478.6,345.8 478.8,345.8 479.0,345.8 479.1,345.9 479.2,346.1 479.3,346.4 479.4,346.7 479.4,347.1 479.5,347.5 479.5,347.9 479.6,348.3 479.6,348.8 479.7,349.1 479.8,349.5 479.9,349.8 480.0,350.0 480.1,350.1 480.3,350.1 480.5,350.1 480.7,350.0 480.9,349.8 481.1,349.5"/>
<polyline class="wv" points="535.1,348.6 535.3,348.9 535.6,349.3 535.8,349.6 536.0,349.8 536.3,350.0 536.5,350.1 536.6,350.1 536.8,350.1 536.9,350.0 537.1,349.7 537.1,349.5 537.2,349.1 537.3,348.7 537.3,348.3 537.4,347.9 537.4,347.5 537.5,347.0 537.6,346.7 537.6,346.4 537.7,346.1 537.8,345.9 538.0,345.8 538.1,345.8 538.3,345.9 538.5,346.0 538.7,346.2 539.0,346.5 539.2,346.8 539.5,347.1 539.8,347.4 540.0,347.7 540.3,348.0 540.5,348.3 540.8,348.5 541.0,348.7 541.2,348.8 541.4,348.8 541.5,348.7 541.6,348.5 541.7,348.3 541.8,348.0 541.9,347.7 541.9,347.3 541.9,346.9 542.0,346.5 542.0,346.1 542.0,345.7 542.1,345.3 542.1,345.0 542.2,344.7 542.3,344.5 542.4,344.4 542.6,344.4 542.7,344.4 542.9,344.5 543.1,344.7 543.4,344.9 543.6,345.1 543.9,345.4 544.2,345.7 544.5,346.0 544.7,346.3 545.0,346.6 545.3,346.8 545.5,347.0 545.7,347.1 545.9,347.1 546.1,347.1 546.2,347.0 546.3,346.8 546.4,346.6 546.4,346.3 546.4,346.0 546.5,345.6 546.5,345.2 546.5,344.8 546.5,344.4 546.5,344.0 546.5,343.6 546.5,343.3 546.6,343.1 546.7,342.9 546.8,342.7 546.9,342.7 547.1,342.7 547.3,342.8 547.5,342.9 547.7,343.1 548.0,343.3 548.3,343.6 548.5,343.9 548.8,344.1 549.1,344.4 549.4,344.7 549.7,344.9 549.9,345.1 550.1,345.2 550.3,345.2 550.5,345.2 550.6,345.2 550.7,345.0 550.8,344.9 550.9,344.6 550.9,344.3 550.9,344.0 550.9,343.6 550.9,343.2 550.9,342.8 550.8,342.4 550.8,342.1 550.8,341.7 550.8,341.4 550.9,341.2 550.9,341.0 551.0,340.8 551.1,340.7 551.3,340.7 551.5,340.8 551.7,340.9 551.9,341.0 552.2,341.2 552.4,341.4 552.7,341.7 553.0,341.9 553.3,342.2 553.6,342.4 553.9,342.6 554.1,342.8 554.4,342.9 554.6,343.0 554.8,343.1 554.9,343.0 555.1,343.0 555.2,342.8 555.2,342.6 555.2,342.4 555.2,342.1 555.2,341.7 555.2,341.4 555.2,341.0 555.1,340.6 555.1,340.3 555.0,339.9 555.0,339.6 555.0,339.3 555.0,339.0 555.0,338.8 555.1,338.6 555.2,338.5 555.3,338.5 555.5,338.5 555.6,338.5 555.9,338.6 556.1,338.8 556.4,339.0 556.7,339.2 557.0,339.4 557.3,339.6 557.6,339.8 557.8,340.0 558.1,340.2 558.4,340.3 558.6,340.5 558.8,340.5 559.0,340.5 559.2,340.5 559.3,340.4 559.4,340.3 559.4,340.1 559.4,339.9 559.4,339.6 559.4,339.3 559.4,339.0 559.3,338.7 559.2,338.3 559.1,338.0 559.1,337.6 559.0,337.3 558.9,337.0 558.9,336.7 558.9,336.5 558.9,336.3 559.0,336.1 559.1,336.0 559.2,336.0 559.3,335.9 559.5,336.0 559.7,336.0 560.0,336.2 560.2,336.3 560.5,336.5 560.8,336.6 561.1,336.8 561.4,337.0 561.7,337.2 562.0,337.3 562.3,337.5 562.5,337.6 562.7,337.6 562.9,337.7 563.1,337.7 563.2,337.6 563.3,337.5 563.4,337.4 563.4,337.2 563.4,337.0 563.4,336.8 563.4,336.5 563.3,336.2 563.2,335.9 563.1,335.5 563.0,335.2 562.9,334.9 562.8,334.6 562.7,334.3 562.6,334.0 562.6,333.8 562.6,333.6 562.6,333.4 562.6,333.2 562.7,333.1 562.8,333.1 563.0,333.1 563.1,333.1 563.3,333.1 563.6,333.2 563.8,333.3 564.1,333.4 564.4,333.6 564.7,333.7 565.0,333.9 565.3,334.0 565.6,334.1 565.9,334.2 566.1,334.3 566.4,334.4 566.6,334.4 566.8,334.4 566.9,334.4 567.0,334.3 567.1,334.2 567.2,334.1 567.2,333.9 567.1,333.7 567.1,333.5 567.0,333.2 566.9,333.0 566.8,332.7 566.7,332.4 566.5,332.1 566.4,331.8 566.3,331.5 566.2,331.2 566.1,331.0 566.0,330.7 565.9,330.5 565.9,330.3 565.9,330.2 565.9,330.0 566.0,329.9 566.1,329.9 566.2,329.8 566.4,329.8 566.6,329.9 566.8,329.9 567.1,330.0 567.3,330.1 567.6,330.1 567.9,330.2 568.2,330.3 568.5,330.4 568.8,330.5 569.1,330.6 569.4,330.7 569.6,330.7 569.8,330.8 570.0,330.8 570.2,330.7 570.3,330.7 570.4,330.6 570.5,330.5 570.5,330.4 570.5,330.2 570.5,330.0 570.4,329.8 570.3,329.6 570.2,329.4 570.1,329.1 569.9,328.9 569.8,328.6 569.6,328.3 569.4,328.1 569.3,327.8 569.1,327.6 569.0,327.4 568.9,327.1 568.8,327.0 568.8,326.8 568.8,326.6 568.8,326.5 568.8,326.4 568.9,326.3 569.0,326.3 569.1,326.2 569.3,326.2 569.5,326.2 569.7,326.3 570.0,326.3 570.2,326.3 570.5,326.4 570.8,326.4 571.1,326.5 571.4,326.5 571.7,326.6 572.0,326.6 572.2,326.7 572.5,326.7 572.7,326.7 572.9,326.6 573.0,326.6 573.2,326.5 573.3,326.5 573.3,326.4 573.3,326.2 573.3,326.1 573.3,326.0 573.2,325.8 573.1,325.6 573.0,325.4 572.9,325.2 572.7,325.0 572.5,324.8 572.4,324.5 572.2,324.3 572.0,324.1 571.8,323.9 571.6,323.7 571.5,323.5 571.3,323.3 571.2,323.1 571.1,323.0 571.1,322.8 571.0,322.7 571.0,322.6 571.1,322.5 571.1,322.4 571.2,322.4 571.3,322.3 571.5,322.3 571.7,322.2 571.9,322.2 572.1,322.2 572.4,322.2 572.7,322.2 572.9,322.2 573.2,322.2 573.5,322.2 573.8,322.2 574.1,322.2 574.3,322.2 574.5,322.2 574.8,322.2 575.0,322.1 575.1,322.1 575.3,322.0 575.4,321.9 575.4,321.8 575.5,321.7 575.5,321.6 575.5,321.5 575.4,321.3 575.3,321.2 575.2,321.0 575.1,320.9 574.9,320.7 574.7,320.5 574.5,320.3 574.3,320.2 574.1,320.0 573.9,319.8 573.7,319.7 573.5,319.5 573.3,319.3 573.1,319.2 572.9,319.0 572.8,318.9 572.7,318.8 572.6,318.6 572.6,318.5 572.5,318.4 572.6,318.3 572.6,318.2 572.7,318.2 572.8,318.1 572.9,318.0 573.1,318.0 573.3,317.9 573.5,317.9 573.7,317.8 574.0,317.8"/>
<polyline class="wv" points="535.1,348.6 535.1,348.2 535.2,347.8 535.2,347.4 535.3,347.0 535.4,346.8 535.5,346.6 535.7,346.5 535.8,346.5 536.0,346.5 536.2,346.6 536.4,346.8 536.7,347.1 536.9,347.4 537.2,347.7 537.4,348.1 537.7,348.4 538.0,348.7 538.2,349.0 538.4,349.2 538.7,349.4 538.9,349.5 539.0,349.5 539.2,349.4 539.3,349.3 539.4,349.0 539.5,348.7 539.6,348.4 539.6,348.0 539.7,347.6 539.7,347.2 539.7,346.8 539.8,346.4 539.8,346.0 539.9,345.7 540.0,345.4 540.1,345.3 540.2,345.2 540.4,345.1 540.5,345.2 540.8,345.3 541.0,345.5 541.2,345.7 541.5,346.0 541.7,346.3 542.0,346.6 542.3,347.0 542.6,347.3 542.8,347.5 543.1,347.7 543.3,347.9 543.5,348.0 543.7,348.0 543.8,347.9 543.9,347.8 544.0,347.6 544.1,347.3 544.2,347.0 544.2,346.6 544.2,346.2 544.2,345.8 544.2,345.4 544.3,345.0 544.3,344.6 544.3,344.3 544.4,344.0 544.5,343.8 544.6,343.7 544.7,343.6 544.8,343.6 545.0,343.6 545.2,343.8 545.5,343.9 545.7,344.2 546.0,344.4 546.3,344.7 546.6,345.0 546.8,345.3 547.1,345.6 547.4,345.8 547.6,346.0 547.9,346.1 548.1,346.2 548.2,346.2 548.4,346.2 548.5,346.0 548.6,345.9 548.6,345.6 548.7,345.3 548.7,345.0 548.7,344.6 548.7,344.2 548.7,343.8 548.7,343.4 548.7,343.0 548.7,342.7 548.7,342.4 548.7,342.1 548.8,341.9 548.9,341.8 549.1,341.7 549.2,341.7 549.4,341.8 549.6,341.9 549.9,342.1 550.1,342.3 550.4,342.6 550.7,342.8 551.0,343.1 551.3,343.4 551.6,343.6 551.8,343.8 552.1,344.0 552.3,344.1 552.5,344.2 552.7,344.2 552.8,344.1 552.9,344.0 553.0,343.8 553.1,343.6 553.1,343.3 553.1,343.0 553.1,342.7 553.0,342.3 553.0,341.9 553.0,341.5 552.9,341.1 552.9,340.8 552.9,340.5 552.9,340.2 553.0,340.0 553.0,339.8 553.1,339.7 553.3,339.6 553.4,339.7 553.6,339.7 553.8,339.8 554.1,340.0 554.3,340.2 554.6,340.4 554.9,340.6 555.2,340.8 555.5,341.1 555.8,341.3 556.1,341.5 556.3,341.6 556.6,341.8 556.8,341.8 557.0,341.8 557.1,341.8 557.2,341.7 557.3,341.6 557.3,341.4 557.4,341.1 557.4,340.8 557.3,340.5 557.3,340.2 557.2,339.8 557.2,339.5 557.1,339.1 557.0,338.7 557.0,338.4 557.0,338.1 557.0,337.9 557.0,337.6 557.0,337.5 557.1,337.3 557.2,337.3 557.4,337.3 557.6,337.3 557.8,337.4 558.0,337.5 558.3,337.6 558.5,337.8 558.8,338.0 559.1,338.2 559.4,338.4 559.7,338.6 560.0,338.8 560.3,338.9 560.5,339.0 560.8,339.1 561.0,339.2 561.1,339.2 561.3,339.1 561.4,339.0 561.4,338.9 561.5,338.7 561.5,338.4 561.4,338.2 561.4,337.9 561.3,337.6 561.3,337.2 561.2,336.9 561.1,336.6 561.0,336.2 560.9,335.9 560.8,335.6 560.8,335.3 560.8,335.1 560.8,334.9 560.8,334.8 560.9,334.6 561.0,334.6 561.1,334.5 561.3,334.6 561.5,334.6 561.7,334.7 562.0,334.8 562.3,335.0 562.6,335.1 562.9,335.3 563.2,335.4 563.5,335.6 563.8,335.7 564.0,335.9 564.3,336.0 564.5,336.1 564.8,336.1 564.9,336.1 565.1,336.1 565.2,336.0 565.3,335.9 565.3,335.8 565.3,335.6 565.3,335.3 565.3,335.1 565.2,334.8 565.1,334.5 565.0,334.2 564.9,333.9 564.8,333.6 564.7,333.3 564.6,333.0 564.5,332.7 564.4,332.5 564.3,332.2 564.3,332.0 564.3,331.8 564.3,331.7 564.4,331.6 564.5,331.5 564.6,331.5 564.8,331.5 565.0,331.5 565.2,331.6 565.4,331.7 565.7,331.8 566.0,331.9 566.3,332.0 566.6,332.1 566.9,332.2 567.2,332.4 567.5,332.5 567.7,332.5 568.0,332.6 568.2,332.6 568.4,332.7 568.6,332.6 568.7,332.6 568.8,332.5 568.9,332.4 568.9,332.2 568.9,332.1 568.8,331.9 568.8,331.6 568.7,331.4 568.6,331.1 568.4,330.9 568.3,330.6 568.2,330.3 568.0,330.0 567.9,329.8 567.7,329.5 567.6,329.2 567.5,329.0 567.5,328.8 567.4,328.6 567.4,328.5 567.4,328.3 567.4,328.2 567.5,328.2 567.6,328.1 567.8,328.1 568.0,328.1 568.2,328.1 568.4,328.1 568.7,328.2 568.9,328.3 569.2,328.3 569.5,328.4 569.8,328.5 570.1,328.6 570.4,328.6 570.7,328.7 570.9,328.7 571.2,328.8 571.4,328.8 571.6,328.7 571.7,328.7 571.8,328.7 571.9,328.6 572.0,328.5 572.0,328.3 572.0,328.2 571.9,328.0 571.9,327.8 571.8,327.6 571.6,327.4 571.5,327.1 571.3,326.9 571.2,326.7 571.0,326.4 570.8,326.2 570.7,326.0 570.5,325.7 570.3,325.5 570.2,325.3 570.1,325.1 570.0,325.0 570.0,324.8 570.0,324.7 570.0,324.6 570.0,324.5 570.1,324.4 570.2,324.3 570.4,324.3 570.5,324.3 570.7,324.3 571.0,324.3 571.2,324.3 571.5,324.3 571.8,324.4 572.0,324.4 572.3,324.4 572.6,324.4 572.9,324.5 573.2,324.5 573.4,324.5 573.7,324.5 573.9,324.4 574.1,324.4 574.2,324.4 574.3,324.3 574.4,324.2 574.5,324.1 574.5,324.0 574.5,323.9 574.5,323.7 574.4,323.6 574.3,323.4 574.2,323.2 574.0,323.0 573.9,322.8 573.7,322.6 573.5,322.4 573.3,322.3 573.1,322.1 572.9,321.9 572.7,321.7 572.5,321.5 572.3,321.3 572.2,321.2 572.1,321.0 572.0,320.9 571.9,320.7 571.9,320.6 571.9,320.5 571.9,320.4 572.0,320.3 572.1,320.3 572.2,320.2 572.4,320.2 572.5,320.1 572.8,320.1 573.0,320.1 573.2,320.0 573.5,320.0 573.8,320.0 574.0,320.0 574.3,320.0 574.6,319.9 574.8,319.9 575.1,319.9 575.3,319.8 575.5,319.8 575.7,319.7 575.9,319.6 576.0,319.6 576.1,319.5 576.2,319.4 576.2,319.3 576.2,319.2 576.2,319.0 576.1,318.9 576.1,318.8 575.9,318.6 575.8,318.5 575.6,318.3 575.4,318.2 575.2,318.0"/>
<line class="dd" x1="509.2" y1="247.3" x2="509.2" y2="352.0"/>
<path class="F" d="M487.3,396 L487.3,357 Q487.3,353.3 491,353.3 Q508.5,355.5 526,353.3 Q529.5,353.3 529.5,357 L529.5,396"/>
<path class="m" d="M484,397 Q487.3,396 489.6,398 M533,397 Q529.5,396 527.5,398"/>
<rect class="F" x="489.6" y="359.7" width="37.9" height="81.5"/>
<line class="m" x1="489.6" y1="359.7" x2="527.5" y2="359.7"/>
<line class="m" x1="491.5" y1="368.1" x2="525.5" y2="368.1"/>
<line class="M" x1="489.6" y1="378.6" x2="527.5" y2="378.6"/>
<line class="m" x1="491.5" y1="359.7" x2="491.5" y2="378.6"/>
<line class="m" x1="525.5" y1="359.7" x2="525.5" y2="378.6"/>
<rect class="m" x="495.0" y="369" width="2.4" height="2.2"/>
<ellipse class="m" cx="496.2" cy="375.1" rx="1.3" ry="0.9"/>
<rect class="m" x="506.9" y="369" width="2.4" height="2.2"/>
<ellipse class="m" cx="508.1" cy="375.1" rx="1.3" ry="0.9"/>
<rect class="m" x="519.5" y="369" width="2.4" height="2.2"/>
<ellipse class="m" cx="520.7" cy="375.1" rx="1.3" ry="0.9"/>
<ellipse class="m" cx="508.1" cy="382.9" rx="1.1" ry="1.1"/>
<line class="dd" x1="508.8" y1="352.0" x2="508.8" y2="441.0"/>
<path class="F" d="M404.9,420.4 L459.5,388.9 L459.5,388.9 L459.8,388.8 L460.3,388.8 L460.7,388.9 L461.3,389.1 L461.9,389.4 L462.5,389.9 L463.1,390.4 L463.8,391.1 L464.5,391.8 L465.3,392.6 L466.0,393.5 L466.7,394.5 L467.4,395.5 L468.1,396.6 L468.7,397.7 L469.3,398.8 L469.9,399.9 L470.5,401.0 L470.9,402.1 L471.4,403.2 L471.7,404.2 L472.0,405.2 L472.2,406.1 L472.4,407.0 L472.4,407.7 L472.4,408.4 L472.3,409.0 L472.2,409.5 L472.0,409.8 L471.7,410.1 L417.1,441.6 Z"/>
<ellipse class="F" cx="413.8" cy="429.4" rx="28.6" ry="16.5" transform="rotate(60 413.8 429.4)"/>
<ellipse class="F" cx="411.0" cy="431.0" rx="28.6" ry="16.5" transform="rotate(60 411.0 431.0)"/>
<ellipse class="t" cx="411.5" cy="431.3" rx="20.6" ry="11.9" transform="rotate(60 411.5 431.3)"/>
<ellipse class="m" cx="410.2" cy="432.2" rx="8.6" ry="6.3" transform="rotate(60 410.2 432.2)"/>
<ellipse class="m" cx="422.1" cy="424.6" rx="2.6" ry="1.5" transform="rotate(60 422.1 424.6)"/>
<ellipse class="m" cx="422.2" cy="450.3" rx="2.6" ry="1.5" transform="rotate(60 422.2 450.3)"/>
<ellipse class="m" cx="399.9" cy="437.4" rx="2.6" ry="1.5" transform="rotate(60 399.9 437.4)"/>
<ellipse class="m" cx="399.8" cy="411.7" rx="2.6" ry="1.5" transform="rotate(60 399.8 411.7)"/>
<path class="F" d="M435.3,397 L435.3,405 Q441.9,412 448.5,405 L448.5,397"/>
<polygon class="f" points="425.6,370.7 447.3,359.1 461.5,367.3 439.4,380.8"/>
<polygon class="f" points="425.6,370.7 439.4,380.8 439.4,396.9 425.6,389.4"/>
<polygon class="f" points="439.4,380.8 461.5,367.3 461.5,384.1 439.4,396.9"/>
<line class="t" x1="426.0" y1="372.8" x2="439.4" y2="382.6"/>
<line class="t" x1="439.4" y1="382.6" x2="461.5" y2="369.3"/>
<line class="t" x1="426.0" y1="375.0" x2="439.4" y2="384.8"/>
<line class="t" x1="439.4" y1="384.8" x2="461.5" y2="371.5"/>
<line class="t" x1="438.3" y1="381.5" x2="438.3" y2="396.3"/>
<ellipse class="m" cx="429.2" cy="384.9" rx="4.3" ry="4.3"/>
<ellipse class="t" cx="429.2" cy="384.9" rx="2.2" ry="2.3"/>
<line class="d" x1="449.9" y1="378.7" x2="460.3" y2="384.7"/>
<path class="F" d="M405.5,684.4 L456.6,654.9 L456.6,654.9 L457.0,654.8 L457.4,654.8 L457.9,654.9 L458.4,655.1 L459.0,655.4 L459.6,655.9 L460.3,656.4 L461.0,657.1 L461.7,657.8 L462.4,658.6 L463.1,659.5 L463.8,660.5 L464.5,661.5 L465.2,662.6 L465.9,663.7 L466.5,664.8 L467.1,665.9 L467.6,667.0 L468.1,668.1 L468.5,669.2 L468.8,670.2 L469.1,671.2 L469.3,672.1 L469.5,673.0 L469.6,673.7 L469.6,674.4 L469.5,675.0 L469.3,675.5 L469.1,675.8 L468.8,676.1 L417.7,705.6 Z"/>
<ellipse class="F" cx="414.4" cy="693.4" rx="28.6" ry="16.5" transform="rotate(60 414.4 693.4)"/>
<ellipse class="F" cx="411.6" cy="695.0" rx="28.6" ry="16.5" transform="rotate(60 411.6 695.0)"/>
<ellipse class="t" cx="412.1" cy="695.3" rx="20.6" ry="11.9" transform="rotate(60 412.1 695.3)"/>
<ellipse class="m" cx="410.8" cy="696.2" rx="8.6" ry="6.3" transform="rotate(60 410.8 696.2)"/>
<ellipse class="m" cx="422.7" cy="688.6" rx="2.6" ry="1.5" transform="rotate(60 422.7 688.6)"/>
<ellipse class="m" cx="422.8" cy="714.3" rx="2.6" ry="1.5" transform="rotate(60 422.8 714.3)"/>
<ellipse class="m" cx="400.5" cy="701.4" rx="2.6" ry="1.5" transform="rotate(60 400.5 701.4)"/>
<ellipse class="m" cx="400.4" cy="675.7" rx="2.6" ry="1.5" transform="rotate(60 400.4 675.7)"/>
<path class="F" d="M430.2,667 L430.2,672.5 Q439.4,676 448.6,672.5 L448.6,667 Z"/>
<ellipse class="F" cx="440.2" cy="660.0" rx="11.5" ry="12.0"/>
<polygon class="F" points="445.5,653.5 452.5,651.8 459.2,655.5 460.4,663.5 457.5,670.8 450.2,672.0 443.5,668.5 442.8,660.0"/>
<ellipse class="m" cx="454.3" cy="663.4" rx="4.4" ry="6.0" transform="rotate(-10 454.3 663.4)"/>
<line class="t" x1="445.5" y1="653.5" x2="448.0" y2="657.5"/>
<line class="t" x1="443.5" y1="668.5" x2="447.0" y2="666.0"/>
<path class="F" d="M430.2,646 L430.2,649.5 Q440.4,653.5 450.7,649.5 L450.7,646 Z"/>
<path class="F" d="M429.2,640.5 L429.2,646 Q440.4,650.5 451.7,646 L451.7,640.5 Q440.4,636 429.2,640.5 Z"/>
<line class="t" x1="436.0" y1="639.0" x2="436.0" y2="648.8"/>
<line class="t" x1="445.0" y1="639.0" x2="445.0" y2="648.8"/>
<path class="F" d="M433.8,630.5 L433.8,639 Q440.7,641.5 447.6,639 L447.6,630.5 Q440.7,628 433.8,630.5 Z"/>
<path class="F" d="M433.3,622 L433.3,629.5 Q440.9,633 448.6,629.5 L448.6,622 Q440.9,619 433.3,622 Z"/>
<path class="F" d="M437.9,607 L437.9,620.8 L444.5,620.8 L444.5,607 Q441.2,605 437.9,607 Z"/>
<line class="t" x1="437.9" y1="611.0" x2="444.5" y2="611.0"/>
<line class="t" x1="437.9" y1="614.5" x2="444.5" y2="614.5"/>
<line class="t" x1="437.9" y1="618.0" x2="444.5" y2="618.0"/>
<line class="d" x1="460.3" y1="384.7" x2="603.6" y2="301.7"/>
</svg>
</body></html>
